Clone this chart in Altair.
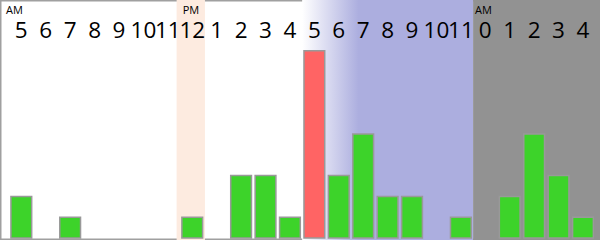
import altair as alt
import pandas as pd

# --- data ---
hour_labels = ["5", "6", "7", "8", "9", "10", "11", "12", "1", "2", "3", "4",
               "5", "6", "7", "8", "9", "10", "11", "0", "1", "2", "3", "4"]
counts = [2, 0, 1, 0, 0, 0, 0, 1, 0, 3, 3, 1, 9, 3, 5, 2, 2, 0, 1, 0, 2, 5, 3, 1]
peak_index = 12

period_labels = ["AM", "PM", "AM"]
period_pos = [-0.13, 7.11, 19.08]

# background bands (in hour-slot units)
band_start = [6.86, 12.0, 19.0]
band_end = [8.02, 19.0, 24.4]
band_kind = ["noon", "evening", "night"]

# --- tables ---
idx = list(range(len(hour_labels)))
bars = pd.DataFrame({
    "i": idx,
    "x0": [i + 0.075 for i in idx],
    "x1": [i + 0.925 for i in idx],
    "count": counts,
    "kind": ["peak" if i == peak_index else "normal" for i in idx],
})
bars = bars[bars["count"] > 0]

labels = pd.DataFrame({"xc": [i + 0.5 for i in idx], "label": hour_labels})
periods = pd.DataFrame({"x": period_pos, "label": period_labels})
bands = pd.DataFrame({"s": band_start, "e": band_end, "kind": band_kind})

xscale = alt.Scale(domain=[-0.3727, 24.197], nice=False, zero=False)
yscale = alt.Scale(domain=[-0.096, 11.442], nice=False, zero=False)

def band(kind, fill):
    return alt.Chart(bands[bands["kind"] == kind]).mark_rect(fill=fill).encode(
        x=alt.X("s:Q", scale=xscale, axis=None),
        x2="e:Q",
        y=alt.value(0),
        y2=alt.value(240),
    )

noon = band("noon", "#fdebe0")
evening = band("evening", alt.Gradient(
    gradient="linear",
    stops=[alt.GradientStop(color="#ffffff", offset=0),
           alt.GradientStop(color="#acaedf", offset=0.33),
           alt.GradientStop(color="#acaedf", offset=1)],
    x1=0, x2=1, y1=0, y2=0))
night = band("night", "#929292")

bar_layer = alt.Chart(bars).mark_rect(stroke="#999999", strokeWidth=1.5).encode(
    x=alt.X("x0:Q", scale=xscale, axis=None),
    x2="x1:Q",
    y=alt.Y("count:Q", scale=yscale, axis=None),
    y2=alt.datum(0),
    color=alt.Color("kind:N", scale=alt.Scale(domain=["normal", "peak"],
                                              range=["#3dd32a", "#ff6464"]),
                    legend=None),
)

hour_text = alt.Chart(labels).mark_text(
    font="Open Sans", fontSize=22.5, color="black", baseline="alphabetic", align="center"
).encode(
    x=alt.X("xc:Q", scale=xscale, axis=None),
    y=alt.value(37.7),
    text="label:N",
)

period_text = alt.Chart(periods).mark_text(
    font="Open Sans", fontSize=11, color="black", baseline="alphabetic", align="left"
).encode(
    x=alt.X("x:Q", scale=xscale, axis=None),
    y=alt.value(13.5),
    text="label:N",
)

chart = alt.layer(noon, evening, night, bar_layer, hour_text, period_text).properties(
    width=600, height=240,
    autosize=alt.AutoSizeParams(type="none"),
    padding=0,
    background="white",
).configure_view(stroke="#a0a0a0", strokeWidth=3)

chart.save("out.html", embed_options={"renderer": "svg", "actions": False})
